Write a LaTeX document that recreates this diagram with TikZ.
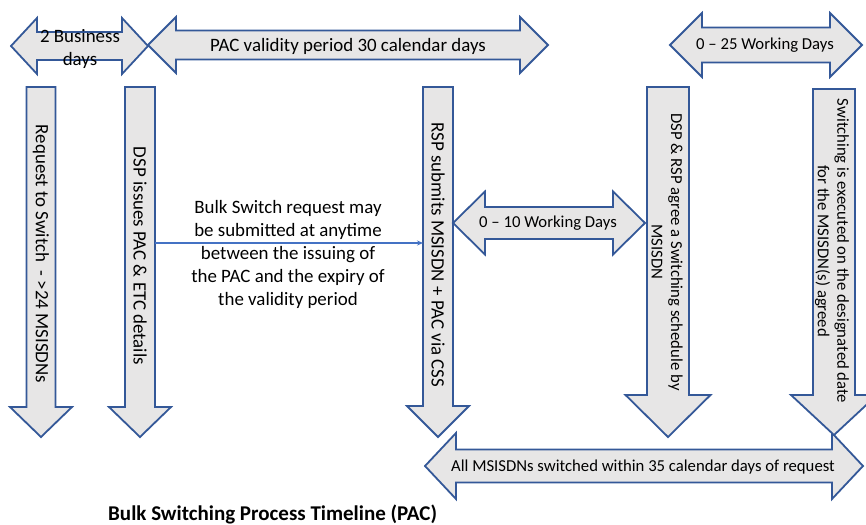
\documentclass[tikz,border=0pt]{standalone}
\usepackage{fontspec}
\setmainfont{Carlito}
\usetikzlibrary{arrows.meta}
\definecolor{bafill}{HTML}{E7E6E6}
\definecolor{badraw}{RGB}{52,88,152}
\definecolor{connblue}{HTML}{4472C4}
\newcommand\fbig{\fontsize{18.9}{23}\selectfont}
\newcommand\fsmall{\fontsize{16.7}{19.5}\selectfont}
\newcommand\fcap{\fontsize{21}{25}\bfseries\selectfont}
% horizontal double block arrow: x1 x2 yc headhalf shafthalf headlen
\newcommand\hdblarrow[6]{%
  \draw[barrow] (#1,#3) -- (#1+#6,#3-#4) -- (#1+#6,#3-#5) -- (#2-#6,#3-#5)
    -- (#2-#6,#3-#4) -- (#2,#3) -- (#2-#6,#3+#4) -- (#2-#6,#3+#5)
    -- (#1+#6,#3+#5) -- (#1+#6,#3+#4) -- cycle;}
% vertical down block arrow: xc shafthalf ytop yhead headhalf ytip
\newcommand\vdownarrow[6]{%
  \draw[barrow] (#1-#2,#3) -- (#1+#2,#3) -- (#1+#2,#4) -- (#1+#5,#4)
    -- (#1,#6) -- (#1-#5,#4) -- (#1-#2,#4) -- cycle;}
\begin{document}
\begin{tikzpicture}[x=1pt,y=-1pt,
  barrow/.style={draw=badraw,fill=bafill,line width=1.8pt,line join=miter},
  lbl/.style={inner sep=0pt,align=center,text=black},
  conn/.style={draw=connblue,line width=1.3pt,-{Stealth[length=6pt,width=5pt]}}]
\useasboundingbox (0,0) rectangle (866,524);
% top arrows
\hdblarrow{11}{148}{46}{28}{14}{26}
\node[lbl,font=\fbig] (biz) at (80,49) {2 Business\\days};
\hdblarrow{148}{548}{45}{28}{14.5}{28}
\node[lbl,font=\fbig] (pac) at (348,46) {PAC validity period 30 calendar days};
\hdblarrow{670}{862}{45}{32}{17.5}{32}
\node[lbl,font=\fsmall] (wd25) at (765,45) {0 – 25 Working Days};
% vertical arrows
\vdownarrow{41}{14.5}{87}{407}{31}{437}
\node[lbl,font=\fbig,rotate=-90] (req) at (41,254) {Request to Switch \ - >24 MSISDNs};
\vdownarrow{140}{15}{87}{407}{31}{437}
\node[lbl,font=\fbig,rotate=-90] (dsp) at (140,256) {DSP issues PAC \& ETC details};
\vdownarrow{438}{15}{87}{406}{31}{437}
\node[lbl,font=\fbig,rotate=-90] (rsp) at (438,255) {RSP submits MSISDN + PAC via CSS};
\vdownarrow{668}{21}{87}{395}{42.5}{437}
\node[lbl,font=\fsmall,rotate=-90] (agree) at (667,252) {DSP \& RSP agree a Switching schedule by\\MSISDN};
% middle arrow
\hdblarrow{453}{645}{223}{31.5}{16}{32}
\node[lbl,font=\fsmall] (wd10) at (548,223) {0 – 10 Working Days};
% bottom arrow
\hdblarrow{425}{863}{466}{33}{16.5}{31}
\node[lbl,font=\fsmall] (all) at (643,467) {All MSISDNs switched within 35 calendar days of request};
\vdownarrow{834}{21}{89}{395}{43}{435}
\node[lbl,font=\fsmall,rotate=-90] (exec) at (832,251) {Switching is executed on the designated date\\for the MSISDN(s) agreed};
% connector
\coordinate (dspedge) at (155,243);
\coordinate (rspedge) at (423,243);
\draw[conn] (dspedge) -- (rspedge);
\node[lbl,font=\fbig] (bulk) at (288,254) {Bulk Switch request may\\be submitted at anytime\\between the issuing of\\the PAC and the expiry of\\the validity period};
% caption
\node[inner sep=0pt,anchor=base west,font=\fcap] (cap) at (108,520) {Bulk Switching Process Timeline (PAC)};
\end{tikzpicture}
\end{document}
